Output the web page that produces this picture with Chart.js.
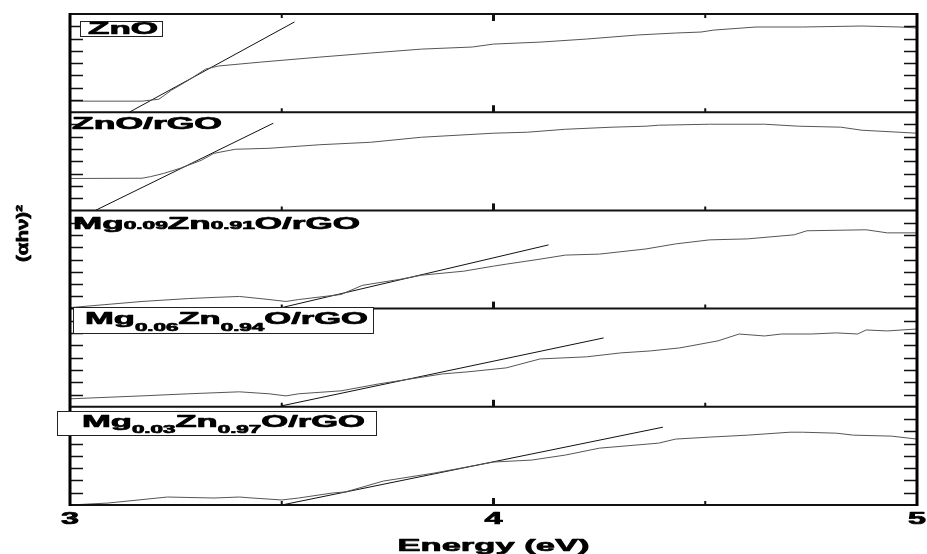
<!DOCTYPE html>
<html>
<head>
<meta charset="utf-8">
<script src="https://cdn.jsdelivr.net/npm/chart.js@4"></script>
<style>
  html, body { margin: 0; background: #fff; }
  canvas { display: block; }
</style>
</head>
<body>
<canvas id="tauc" width="927" height="554"></canvas>
<script>
// photon energy (eV) and (ahv)^2 in panel units (0..8)
const energyZnO = [3.00, 3.17, 3.21, 3.24, 3.28, 3.32, 3.35, 3.45, 3.59, 3.71, 3.83, 3.95, 4.00, 4.11, 4.22, 4.34, 4.43, 4.49, 4.52, 4.62, 4.73, 4.87, 4.96, 5.00];
const ahvZnO    = [0.90, 0.90, 1.06, 1.80, 2.61, 3.51, 3.76, 4.08, 4.49, 4.82, 5.14, 5.31, 5.55, 5.71, 5.96, 6.29, 6.45, 6.53, 6.69, 6.94, 6.94, 7.02, 6.94, 6.86];

const energyZnOrGO = [3.00, 3.17, 3.19, 3.22, 3.26, 3.31, 3.34, 3.39, 3.47, 3.59, 3.71, 3.83, 4.00, 4.08, 4.17, 4.28, 4.36, 4.39, 4.51, 4.64, 4.72, 4.82, 4.87, 5.00];
const ahvZnOrGO    = [2.60, 2.62, 2.75, 3.00, 3.43, 4.08, 4.65, 4.98, 5.06, 5.35, 5.55, 5.96, 6.29, 6.37, 6.61, 6.78, 6.86, 6.94, 7.02, 7.02, 6.86, 6.78, 6.53, 6.29];

const energyMg009 = [3.00, 3.17, 3.28, 3.34, 3.40, 3.47, 3.51, 3.54, 3.64, 3.69, 3.78, 3.83, 3.93, 4.00, 4.03, 4.11, 4.17, 4.25, 4.36, 4.43, 4.51, 4.60, 4.71, 4.74, 4.88, 4.93, 5.00];
const ahvMg009    = [0.08, 0.58, 0.82, 0.91, 0.99, 0.74, 0.58, 0.74, 1.15, 1.89, 2.39, 2.72, 3.05, 3.46, 3.62, 4.03, 4.36, 4.44, 4.86, 5.27, 5.60, 5.68, 6.01, 6.34, 6.42, 6.17, 6.17];

const energyMg006 = [3.00, 3.17, 3.28, 3.40, 3.47, 3.51, 3.54, 3.64, 3.73, 3.88, 3.94, 4.03, 4.11, 4.22, 4.30, 4.37, 4.44, 4.53, 4.58, 4.64, 4.68, 4.75, 4.81, 4.86, 4.88, 4.93, 5.00];
const ahvMg006    = [0.65, 0.89, 1.06, 1.22, 1.06, 0.89, 1.06, 1.30, 1.87, 2.68, 2.85, 3.17, 3.90, 4.07, 4.39, 4.55, 4.80, 5.37, 5.93, 5.77, 5.93, 5.93, 6.02, 5.93, 6.26, 6.18, 6.34];

const energyMg003 = [3.00, 3.09, 3.23, 3.34, 3.40, 3.43, 3.50, 3.54, 3.62, 3.65, 3.74, 3.86, 4.00, 4.09, 4.17, 4.25, 4.39, 4.43, 4.51, 4.60, 4.70, 4.73, 4.81, 4.85, 4.94, 5.00];
const ahvMg003    = [0.00, 0.16, 0.65, 0.57, 0.65, 0.57, 0.41, 0.57, 0.98, 1.06, 1.95, 2.60, 3.50, 3.66, 4.07, 4.63, 5.04, 5.37, 5.53, 5.69, 5.93, 5.93, 5.85, 5.69, 5.61, 5.37];

// linear band-gap extrapolations (two end points each)
const fitEZnO = [3.14, 3.53],     fitAZnO = [0, 7.35];
const fitEZnOrGO = [3.06, 3.48],  fitAZnOrGO = [0, 7.10];
const fitEMg009 = [3.49, 4.13],   fitAMg009 = [0, 5.19];
const fitEMg006 = [3.50, 4.26],   fitAMg006 = [0.08, 5.61];
const fitEMg003 = [3.50, 4.40],   fitAMg003 = [0, 6.34];

// axes
const xTickLabels = [3, 4, 5];
const xMinorTicks = [3.5, 4.5];
const panelRange = [0, 8];

// sample names, [text, isSubscript]
const labelZnO = [['ZnO']];
const labelZnOrGO = [['ZnO/rGO']];
const labelMg009 = [['Mg'], ['0.09', 1], ['Zn'], ['0.91', 1], ['O/rGO']];
const labelMg006 = [['Mg'], ['0.06', 1], ['Zn'], ['0.94', 1], ['O/rGO']];
const labelMg003 = [['Mg'], ['0.03', 1], ['Zn'], ['0.97', 1], ['O/rGO']];

const panels = [
  { id: 'p1', e: energyZnO,    a: ahvZnO,    fe: fitEZnO,    fa: fitAZnO,    label: labelZnO,
    text: { x: 88, base: 34, w: 70, size: 16, drop: 0 }, box: [80, 21, 82, 15] },
  { id: 'p2', e: energyZnOrGO, a: ahvZnOrGO, fe: fitEZnOrGO, fa: fitAZnOrGO, label: labelZnOrGO,
    text: { x: 72, base: 129, w: 150, size: 16, drop: 0 } },
  { id: 'p3', e: energyMg009,  a: ahvMg009,  fe: fitEMg009,  fa: fitAMg009,  label: labelMg009,
    text: { x: 73, base: 228.5, w: 287, size: 17, drop: 0.5 } },
  { id: 'p4', e: energyMg006,  a: ahvMg006,  fe: fitEMg006,  fa: fitAMg006,  label: labelMg006,
    text: { x: 85, base: 324, w: 283, size: 17, drop: 7 }, box: [73, 307, 300, 26] },
  { id: 'p5', e: energyMg003,  a: ahvMg003,  fe: fitEMg003,  fa: fitAMg003,  label: labelMg003,
    text: { x: 82, base: 427, w: 283, size: 17, drop: 6 }, box: [57, 411, 319, 24] }
];

const toPoints = (xs, ys) => xs.map((x, i) => ({ x: x, y: ys[i] }));

const datasets = [];
panels.forEach((p) => {
  datasets.push({ data: toPoints(p.e, p.a), yAxisID: p.id, borderColor: '#555', borderWidth: 1 });
  datasets.push({ data: toPoints(p.fe, p.fa), yAxisID: p.id, borderColor: '#111', borderWidth: 1 });
});

// stacked y axes: the last one defined ends up on top
const scales = { x: { type: 'linear', min: 3, max: 5, display: false } };
panels.slice().reverse().forEach((p) => {
  scales[p.id] = { type: 'linear', position: 'left', stack: 'panels', min: panelRange[0], max: panelRange[1], display: false };
});

const FONT = '"Liberation Sans", Arial, sans-serif';

// text stretched horizontally to the width it has in the figure, a bit heavier
function drawText(ctx, parts, x, base, width, size, drop) {
  const fontOf = (sub) => 'bold ' + (sub ? Math.round(size * 0.62) : size) + 'px ' + FONT;
  let natural = 0;
  parts.forEach(([t, sub]) => { ctx.font = fontOf(sub); natural += ctx.measureText(t).width; });
  ctx.save();
  ctx.translate(x, base);
  ctx.scale(width / natural, 1);
  ctx.strokeStyle = ctx.fillStyle;
  ctx.lineWidth = 0.7;
  ctx.lineJoin = 'round';
  let cx = 0;
  parts.forEach(([t, sub]) => {
    ctx.font = fontOf(sub);
    ctx.fillText(t, cx, sub ? drop : 0);
    ctx.strokeText(t, cx, sub ? drop : 0);
    cx += ctx.measureText(t).width;
  });
  ctx.restore();
}

const framePlugin = {
  id: 'frame',
  afterDatasetsDraw(chart) {
    const { ctx, chartArea: a, scales: s } = chart;
    const x = s.x;
    ctx.save();
    ctx.strokeStyle = '#111';
    ctx.lineCap = 'butt';

    panels.forEach((p, idx) => {
      const y = s[p.id];
      const bot = y.getPixelForValue(panelRange[0]);
      const top = y.getPixelForValue(panelRange[1]);
      ctx.lineWidth = 2;
      ctx.beginPath();
      ctx.moveTo(a.left, bot); ctx.lineTo(a.right, bot);
      if (idx === 0) { ctx.moveTo(a.left, top); ctx.lineTo(a.right, top); }
      ctx.stroke();

      // y ticks, inward, both sides
      ctx.lineWidth = 1.6;
      ctx.beginPath();
      for (let v = panelRange[0] + 1; v < panelRange[1]; v++) {
        const py = Math.round(y.getPixelForValue(v)) + 0.5;
        ctx.moveTo(a.left, py); ctx.lineTo(a.left + 13, py);
        ctx.moveTo(a.right - 13, py); ctx.lineTo(a.right, py);
      }
      ctx.stroke();

      // x ticks pointing up from each panel bottom (and down from the top edge)
      ctx.lineWidth = 3;
      ctx.beginPath();
      xTickLabels.slice(1, -1).forEach((v) => {
        const px = x.getPixelForValue(v);
        ctx.moveTo(px, bot); ctx.lineTo(px, bot - 7);
        if (idx === 0) { ctx.moveTo(px, top); ctx.lineTo(px, top + 7); }
      });
      ctx.stroke();
      ctx.lineWidth = 2;
      ctx.beginPath();
      xMinorTicks.forEach((v) => {
        const px = x.getPixelForValue(v);
        ctx.moveTo(px, bot); ctx.lineTo(px, bot - 4);
        if (idx === 0) { ctx.moveTo(px, top); ctx.lineTo(px, top + 4); }
      });
      ctx.stroke();
    });

    // left and right frame
    ctx.strokeStyle = '#000';
    ctx.lineWidth = 3;
    ctx.beginPath();
    ctx.moveTo(a.left, a.top - 1); ctx.lineTo(a.left, a.bottom + 1);
    ctx.moveTo(a.right, a.top - 1); ctx.lineTo(a.right, a.bottom + 1);
    ctx.stroke();

    // sample labels
    ctx.fillStyle = '#000';
    panels.forEach((p) => {
      if (p.box) {
        ctx.fillStyle = '#fff';
        ctx.fillRect(p.box[0], p.box[1], p.box[2], p.box[3]);
        ctx.fillStyle = '#000';
        ctx.lineWidth = 1;
        ctx.strokeStyle = '#222';
        ctx.strokeRect(p.box[0] + 0.5, p.box[1] + 0.5, p.box[2], p.box[3]);
      }
      const t = p.text;
      drawText(ctx, p.label, t.x, t.base, t.w, t.size, t.drop);
    });

    // x tick labels and axis titles
    ctx.textAlign = 'left';
    xTickLabels.forEach((v) => {
      const px = x.getPixelForValue(v);
      drawText(ctx, [[String(v)]], px - 9, 524, 18, 16, 0);
    });
    drawText(ctx, [['Energy (eV)']], (a.left + a.right) / 2 - 96, 551, 192, 17, 0);

    ctx.save();
    ctx.translate(28, 262);
    ctx.rotate(-Math.PI / 2);
    drawText(ctx, [['(\u03B1h\u03BD)\u00B2']], 0, 0, 57, 16, 0);
    ctx.restore();

    ctx.restore();
  }
};

new Chart(document.getElementById('tauc'), {
  type: 'scatter',
  data: { datasets: datasets },
  options: {
    responsive: false,
    animation: false,
    devicePixelRatio: 1,
    showLine: true,
    elements: { point: { radius: 0 }, line: { tension: 0 } },
    layout: { padding: { left: 70, right: 10, top: 14, bottom: 49 } },
    plugins: { legend: { display: false }, tooltip: { enabled: false } },
    scales: scales
  },
  plugins: [framePlugin]
});
</script>
</body>
</html>
